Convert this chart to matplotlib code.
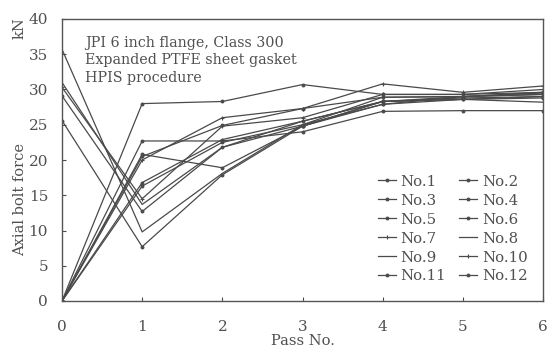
import matplotlib
matplotlib.use("Agg")
import matplotlib.pyplot as plt

passes = [0, 1, 2, 3, 4, 5, 6]
names = ["No.1", "No.2", "No.3", "No.4", "No.5", "No.6",
         "No.7", "No.8", "No.9", "No.10", "No.11", "No.12"]
no1 = [0, 20.5, 24.9, 27.3, 28.9, 29.0, 29.3]
no2 = [0, 28.0, 28.3, 30.7, 29.3, 29.3, 29.6]
no3 = [0, 22.7, 22.7, 24.0, 26.9, 27.0, 27.0]
no4 = [0, 20.8, 18.9, 24.8, 28.3, 28.6, 28.8]
no5 = [0, 16.8, 22.9, 25.5, 28.3, 29.0, 29.3]
no6 = [0, 16.3, 22.5, 25.0, 27.9, 28.6, 29.0]
no7 = [0, 20.0, 26.0, 27.3, 30.8, 29.6, 30.5]
no8 = [35.7, 9.8, 18.1, 25.0, 28.9, 29.0, 29.5]
no9 = [31.0, 13.7, 21.8, 25.5, 28.3, 28.6, 28.2]
no10 = [30.3, 14.5, 24.8, 26.0, 29.3, 29.3, 30.0]
no11 = [29.1, 12.7, 21.8, 24.8, 27.9, 29.0, 29.6]
no12 = [25.6, 7.7, 17.9, 24.8, 28.3, 28.8, 29.0]
series = [no1, no2, no3, no4, no5, no6, no7, no8, no9, no10, no11, no12]
markers = [".", ".", ".", ".", ".", ".", "+", "", "", "+", ".", "."]

plt.rcParams['font.family'] = ['DejaVu Serif']
fig = plt.figure(figsize=(5.47, 3.51), dpi=100)
ax = fig.add_axes([62/547, 1-301/351, 481/547, 282/351])
col = "#4a4a4a"
txt = "#505050"
handles = []
for s, n, m in zip(series, names, markers):
    h, = ax.plot(passes, s, color=col, lw=0.9, marker=m if m else None,
                 ms=4 if m == "." else 3.5, mew=0.8, label=n)
    handles.append(h)

ax.set_xlim(0, 6)
ax.set_ylim(0, 40)
ax.set_xticks(passes)
ax.set_yticks(range(0, 41, 5))
ax.tick_params(direction="in", length=3, colors=col, labelcolor=txt,
               labelsize=11, pad=14)
ax.tick_params(axis="y", pad=10)
for sp in ax.spines.values():
    sp.set_color("#555555")
    sp.set_linewidth(1.0)

ax.set_xlabel("Pass No.", fontsize=10.5, color=txt, labelpad=0)
fig.text(20/547, 1-200/351, "Axial bolt force", rotation=90, ha="center",
         va="center", fontsize=10.5, color=txt)
fig.text(20/547, 1-28/351, "kN", rotation=90, ha="center", va="center",
         fontsize=10.5, color=txt)

ax.text(0.048, 0.94, "JPI 6 inch flange, Class 300\nExpanded PTFE sheet gasket\nHPIS procedure",
        transform=ax.transAxes, ha="left", va="top", fontsize=10.3,
        color=txt, linespacing=1.3)

# row-major legend order: odd numbers in left column, even in right
order = list(range(0, 12, 2)) + list(range(1, 12, 2))
leg = ax.legend([handles[i] for i in order], [names[i] for i in order],
                ncol=2, loc="lower right", bbox_to_anchor=(0.99, 0.025),
                frameon=False, fontsize=10.8, handlelength=1.2,
                handletextpad=0.3, columnspacing=0.9, labelspacing=0.33,
                borderpad=0.2)
for t in leg.get_texts():
    t.set_color(txt)

fig.savefig("out.png", dpi=100)
